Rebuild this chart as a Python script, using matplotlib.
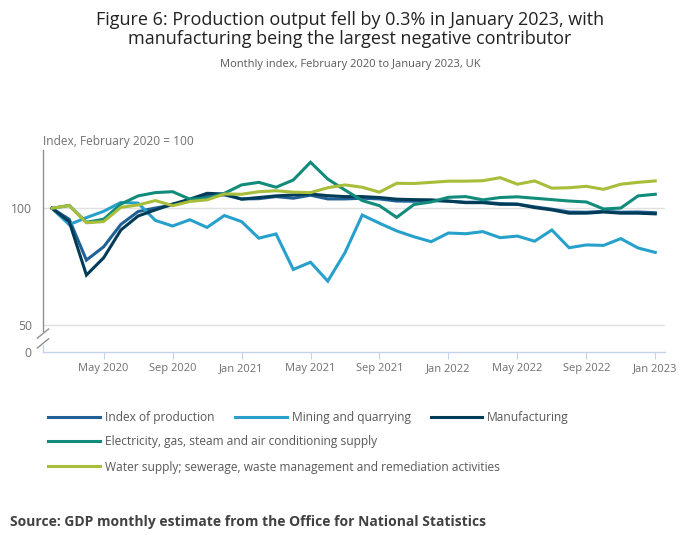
import matplotlib.pyplot as plt
import pandas as pd

plt.rcParams['font.family'] = ['Open Sans', 'DejaVu Sans']

months = pd.date_range('2020-02-01', periods=36, freq='MS')

index_of_production = [100, 95.3, 77.8, 83.5, 93.1, 98.6, 100.1, 101.4, 103.6, 105.3, 105.7, 104.0,
                       104.1, 105.0, 104.3, 105.6, 104.0, 104.0, 104.3, 104.0, 103.1, 103.0, 103.3, 103.0,
                       102.6, 102.6, 102.0, 101.8, 100.6, 99.6, 98.4, 98.3, 98.7, 98.3, 98.4, 98.1]
mining = [100, 93.0, 96.0, 98.7, 102.5, 102.2, 94.8, 92.4, 95.1, 91.8, 96.9, 94.3,
          87.2, 89.0, 73.8, 76.9, 68.8, 81.0, 97.1, 93.6, 90.3, 87.8, 85.7, 89.4,
          89.1, 90.0, 87.4, 88.1, 85.9, 90.7, 83.1, 84.3, 84.1, 87.0, 83.0, 81.1]
manufacturing = [100, 94.3, 71.4, 78.8, 90.7, 96.7, 99.3, 101.8, 103.9, 106.4, 106.1, 103.9,
                 104.6, 105.3, 105.7, 106.1, 105.4, 105.0, 105.0, 104.6, 103.9, 103.7, 103.6, 103.1,
                 102.4, 102.4, 101.7, 101.7, 100.3, 99.3, 97.9, 97.9, 98.4, 97.9, 97.9, 97.6]
electricity = [100, 101.2, 94.0, 95.3, 101.8, 105.3, 106.7, 107.1, 103.9, 104.3, 106.4, 110.0,
               111.1, 109.0, 112.1, 119.7, 112.5, 107.8, 103.3, 101.1, 96.1, 101.6, 102.7, 104.7,
               105.0, 103.6, 104.6, 104.9, 104.3, 103.7, 103.1, 102.7, 99.7, 100.1, 105.3, 106.0]
water = [100, 101.2, 93.8, 94.3, 100.4, 101.4, 103.3, 101.1, 102.9, 103.6, 106.1, 106.0,
         107.1, 107.5, 106.9, 106.7, 108.8, 110.0, 109.0, 106.9, 110.7, 110.6, 111.1, 111.6,
         111.6, 111.8, 113.1, 110.3, 111.7, 108.6, 108.8, 109.4, 108.1, 110.3, 111.1, 111.7]

names = ['Index of production', 'Mining and quarrying', 'Manufacturing',
         'Electricity, gas, steam and air conditioning supply',
         'Water supply; sewerage, waste management and remediation activities']
series = [index_of_production, mining, manufacturing, electricity, water]
colors = ['#206095', '#27a0cc', '#003c57', '#118c7b', '#a8bd3a']

x = list(range(len(months)))
tick_pos = x[3::4]
tick_labels = [m.strftime('%b %Y') for m in months[3::4]]

fig = plt.figure(figsize=(7, 5.49), dpi=100)
ax = fig.add_axes([0.0614, 0.359, 0.889, 0.368])

lines = []
for s, c, n in zip(series, colors, names):
    l, = ax.plot(x, s, color=c, lw=2.2, label=n, solid_joinstyle='miter')
    lines.append(l)

y_zero = 38.5
ax.set_xlim(-0.52, 35.58)
ax.set_ylim(y_zero, 125)
ax.set_yticks([y_zero, 50, 100])
ax.set_yticklabels(['0', '50', '100'])
ax.set_xticks(tick_pos)
ax.set_xticklabels(tick_labels)
ax.tick_params(axis='y', length=0, pad=8, labelsize=8.7, labelcolor='#707070')
ax.tick_params(axis='x', length=5, color='#c5d3ea', labelsize=8, labelcolor='#707070', pad=3)
for v in [50, 100]:
    ax.axhline(v, color='#e0e0e0', lw=1, zorder=0)

for side in ['top', 'right', 'left']:
    ax.spines[side].set_visible(False)
ax.spines['bottom'].set_color('#c5d3ea')
ax.spines['bottom'].set_linewidth(1)

# broken y axis
yt = ax.get_yaxis_transform()
ax.plot([0, 0], [47.3, 125], color='#909090', lw=1, transform=yt, clip_on=False)
ax.plot([0, 0], [y_zero, 41.5], color='#c5d3ea', lw=1, transform=yt, clip_on=False)
ax.plot([-0.009, 0.009], [44.4, 48.3], color='#909090', lw=1, transform=yt, clip_on=False)
ax.plot([-0.009, 0.009], [40.2, 44.1], color='#909090', lw=1, transform=yt, clip_on=False)

ax.text(0, 1.008, 'Index, February 2020 = 100', transform=ax.transAxes, fontsize=8.6,
        color='#707070', ha='left', va='bottom')

fig.text(0.5, 0.98, 'Figure 6: Production output fell by 0.3% in January 2023, with\n'
         'manufacturing being the largest negative contributor',
         ha='center', va='top', fontsize=13, color='#222222', linespacing=1.05)
fig.text(0.5, 0.883, 'Monthly index, February 2020 to January 2023, UK', ha='center', va='center',
         fontsize=8, color='#595959')

legend_spots = [(0.069, 0.240), (0.336, 0.240), (0.615, 0.240), (0.069, 0.195), (0.069, 0.149)]
for l, (lx, ly) in zip(lines, legend_spots):
    fig.legend(handles=[l], loc='center left', bbox_to_anchor=(lx, ly), frameon=False,
               fontsize=8.65, handlelength=4.3, handletextpad=0.4, borderpad=0, borderaxespad=0,
               labelcolor='#595959')

fig.text(0.014, 0.05, 'Source: GDP monthly estimate from the Office for National Statistics',
         ha='left', va='center', fontsize=10, fontweight='bold', color='#414042')

fig.savefig('out.png', dpi=100)
